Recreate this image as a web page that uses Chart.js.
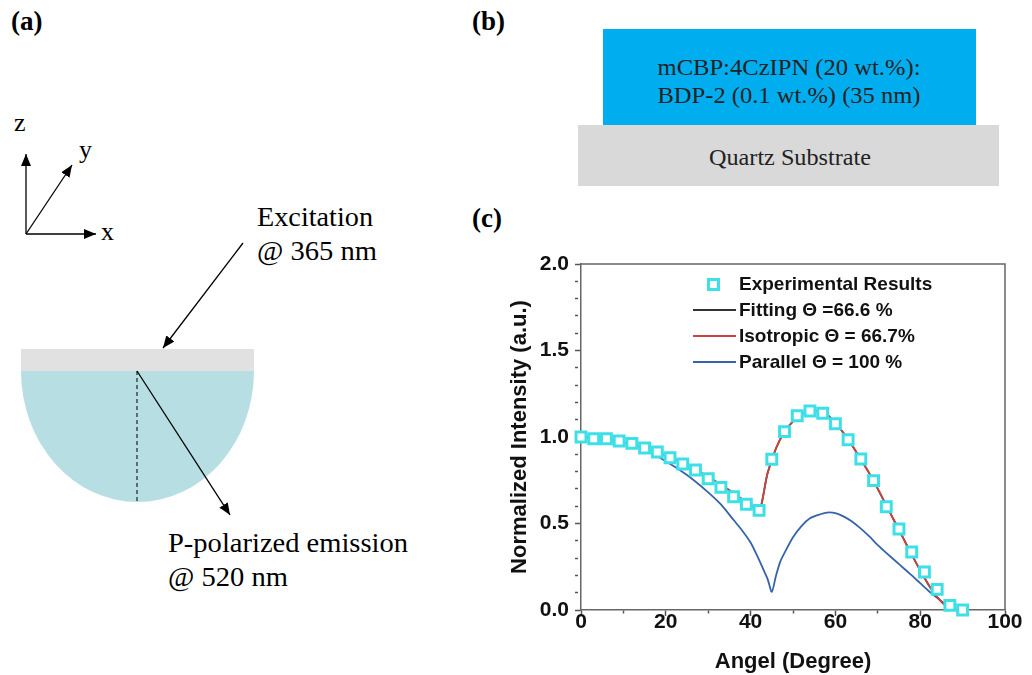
<!DOCTYPE html>
<html>
<head>
<meta charset="utf-8">
<script src="https://cdn.jsdelivr.net/npm/chart.js@4.4.0/dist/chart.umd.min.js"></script>
<style>
    html, body { margin: 0; padding: 0; background: #fff; }
    #fig { position: relative; width: 1032px; height: 675px; overflow: hidden; }
    #diagram { position: absolute; left: 0; top: 0; font-family: "Liberation Serif", "Times New Roman", serif; }
    #chartBox { position: absolute; left: 500px; top: 250px; width: 532px; height: 425px; }
    #legend { position: absolute; left: 0; top: 0; font-family: "Liberation Sans", Arial, sans-serif; font-weight: bold; font-size: 19px; color: #111; }
    .leg-row { position: absolute; left: 692px; height: 24px; display: flex; align-items: center; white-space: nowrap; }
    .leg-sym { width: 47px; height: 24px; position: relative; }
    .leg-line { position: absolute; left: 1px; width: 43px; top: 11px; height: 2px; }
    .leg-box { position: absolute; left: 15px; top: 6px; width: 7px; height: 7px; border: 3px solid; background: #fff; }
</style>
</head>
<body>
<div id="fig">
    <svg id="diagram" width="1032" height="675" viewBox="0 0 1032 675">
        <defs>
            <marker id="ah" viewBox="0 0 12 10" refX="12" refY="5" markerWidth="12" markerHeight="10" markerUnits="userSpaceOnUse" orient="auto">
                <path d="M0,0 L12,5 L0,10 z" fill="#000"/>
            </marker>
        </defs>

        <!-- panel labels -->
        <text x="11" y="30" font-size="27" font-weight="bold">(a)</text>
        <text x="472" y="30" font-size="27" font-weight="bold">(b)</text>
        <text x="472" y="227" font-size="27" font-weight="bold">(c)</text>

        <!-- (a) coordinate axes -->
        <line x1="26" y1="234" x2="26" y2="154" stroke="#000" stroke-width="1.3" marker-end="url(#ah)"/>
        <line x1="26" y1="234" x2="72" y2="165" stroke="#000" stroke-width="1.3" marker-end="url(#ah)"/>
        <line x1="26" y1="234" x2="96" y2="234" stroke="#000" stroke-width="1.3" marker-end="url(#ah)"/>
        <text x="14" y="131" font-size="26">z</text>
        <text x="79" y="158" font-size="26">y</text>
        <text x="101" y="240" font-size="26">x</text>

        <!-- (a) sample on half-cylinder prism -->
        <rect x="21" y="349" width="233" height="22" fill="#e1e1e1"/>
        <path d="M21,371 A116.5,131 0 0 0 254,371 Z" fill="#b7dfe3"/>
        <line x1="137" y1="371" x2="137" y2="502" stroke="#222" stroke-width="1.2" stroke-dasharray="4,3"/>
        <line x1="137" y1="371" x2="230" y2="515" stroke="#000" stroke-width="1.3" marker-end="url(#ah)"/>
        <line x1="243" y1="243" x2="163" y2="348" stroke="#000" stroke-width="1.3" marker-end="url(#ah)"/>

        <text x="257" y="226" font-size="28" textLength="116" lengthAdjust="spacingAndGlyphs">Excitation</text>
        <text x="257" y="260" font-size="28" textLength="120" lengthAdjust="spacingAndGlyphs">@ 365 nm</text>
        <text x="168" y="552" font-size="28" textLength="240" lengthAdjust="spacingAndGlyphs">P-polarized emission</text>
        <text x="168" y="586" font-size="28" textLength="120" lengthAdjust="spacingAndGlyphs">@ 520 nm</text>

        <!-- (b) device stack -->
        <rect x="603" y="29" width="373" height="96" fill="#00aeef"/>
        <rect x="578" y="125" width="421" height="61" fill="#d9d9d9"/>
        <text x="789" y="75" font-size="24" text-anchor="middle" fill="#222" textLength="263" lengthAdjust="spacingAndGlyphs">mCBP:4CzIPN (20 wt.%):</text>
        <text x="789" y="103" font-size="24" text-anchor="middle" fill="#222" textLength="263" lengthAdjust="spacingAndGlyphs">BDP-2 (0.1 wt.%) (35 nm)</text>
        <text x="790" y="165" font-size="24" text-anchor="middle" fill="#222" textLength="162" lengthAdjust="spacingAndGlyphs">Quartz Substrate</text>
    </svg>

    <div id="chartBox"><canvas id="angleChart" width="532" height="425"></canvas></div>
    <div id="legend"></div>
</div>

<script>
// Experimental angle-dependent PL points
const angleExp = [0, 3, 6, 9, 12, 15, 18, 21, 24, 27, 30, 33, 36, 39, 42, 45, 48, 51, 54, 57, 60, 63, 66, 69, 72, 75, 78, 81, 84, 87, 90];
const intensityExp = [1.00, 0.99, 0.99, 0.977, 0.963, 0.936, 0.913, 0.88, 0.844, 0.809, 0.759, 0.709, 0.655, 0.611, 0.576,
    0.871, 1.031, 1.123, 1.15, 1.137, 1.077, 0.984, 0.873, 0.748, 0.597, 0.468, 0.335, 0.22, 0.119, 0.027, 0.0];

// Simulated curves
const angleFit = [0, 3, 6, 9, 12, 15, 18, 21, 24, 27, 30, 33, 36, 39, 42, 44, 46, 48, 50, 52, 54, 56, 58, 60, 62, 64, 66, 68, 70, 72, 74, 76, 78, 80, 82, 84, 86, 88];
const intensityFit = [1.0, 0.995, 0.985, 0.972, 0.956, 0.936, 0.912, 0.883, 0.85, 0.812, 0.77, 0.724, 0.675, 0.625, 0.58,
    0.79, 0.935, 1.03, 1.09, 1.13, 1.15, 1.15, 1.13, 1.08, 1.02, 0.95, 0.87, 0.79, 0.70, 0.605, 0.51, 0.415, 0.32, 0.23, 0.145, 0.075, 0.025, 0.005];
const intensityIso = [1.0, 0.995, 0.985, 0.972, 0.956, 0.936, 0.912, 0.883, 0.85, 0.812, 0.77, 0.724, 0.675, 0.625, 0.58,
    0.79, 0.935, 1.03, 1.09, 1.13, 1.15, 1.15, 1.13, 1.08, 1.02, 0.95, 0.87, 0.79, 0.70, 0.605, 0.51, 0.415, 0.32, 0.23, 0.145, 0.075, 0.025, 0.005];
const angleParallel = [0, 5, 10, 15, 20, 25, 30, 33, 36, 38, 40, 42, 43, 44, 45, 46, 47, 48, 50, 52, 54, 56, 58, 60, 62, 64, 66, 68, 70, 72, 75, 78, 80, 82, 84, 86, 88];
const intensityParallel = [1.0, 0.99, 0.97, 0.925, 0.86, 0.78, 0.68, 0.61, 0.52, 0.46, 0.39, 0.29, 0.235, 0.18, 0.105,
    0.2, 0.28, 0.33, 0.42, 0.485, 0.53, 0.55, 0.563, 0.56, 0.54, 0.51, 0.47, 0.425, 0.375, 0.33, 0.265, 0.2, 0.155, 0.11, 0.07, 0.035, 0.01];

// Axis tick labels
const xTickLabels = [0, 20, 40, 60, 80, 100];
const yTickLabels = [0.0, 0.5, 1.0, 1.5, 2.0];

const cyan = '#3ee0e8';
const red = '#c94440';
const dark = '#333333';
const blue = '#3564aa';
const axisFont = { family: '"Liberation Sans", Arial, sans-serif', weight: 'bold' };

function toPoints(xs, ys) {
    return xs.map((x, i) => ({ x: x, y: ys[i] }));
}
function isMajor(list, v) {
    return list.some(t => Math.abs(t - v) < 1e-6);
}

// top + right frame lines
const frame = {
    id: 'frame',
    beforeDatasetsDraw(chart) {
        const { ctx, chartArea: a } = chart;
        ctx.save();
        ctx.strokeStyle = '#666';
        ctx.lineWidth = 1.5;
        ctx.beginPath();
        ctx.moveTo(a.left, a.top);
        ctx.lineTo(a.right, a.top);
        ctx.lineTo(a.right, a.bottom);
        ctx.stroke();
        ctx.restore();
    }
};

const ctx = document.getElementById('angleChart').getContext('2d');
const chart = new Chart(ctx, {
    type: 'line',
    data: {
        datasets: [{
            label: 'Experimental Results',
            data: toPoints(angleExp, intensityExp),
            showLine: false,
            pointStyle: 'rect',
            pointRadius: 7,
            pointBorderWidth: 3,
            pointBorderColor: cyan,
            pointBackgroundColor: '#fff',
            borderColor: cyan,
            clip: false
        }, {
            label: 'Isotropic Θ = 66.7%',
            data: toPoints(angleFit, intensityIso),
            borderColor: red,
            borderWidth: 1.8,
            pointRadius: 0,
            cubicInterpolationMode: 'monotone',
            clip: false
        }, {
            label: 'Fitting Θ =66.6 %',
            data: toPoints(angleFit, intensityFit),
            borderColor: dark,
            borderWidth: 1.8,
            pointRadius: 0,
            cubicInterpolationMode: 'monotone',
            clip: false
        }, {
            label: 'Parallel Θ = 100 %',
            data: toPoints(angleParallel, intensityParallel),
            borderColor: blue,
            borderWidth: 1.8,
            pointRadius: 0,
            tension: 0.25,
            clip: false
        }]
    },
    options: {
        responsive: false,
        animation: false,
        devicePixelRatio: 1,
        layout: { padding: { left: 0, top: 14, right: 27, bottom: 0 } },
        plugins: {
            legend: { display: false },
            tooltip: { enabled: false }
        },
        scales: {
            x: {
                type: 'linear',
                min: 0,
                max: 100,
                afterFit: s => { s.height = 65; s.paddingLeft = 0; s.paddingRight = 0; },
                ticks: {
                    stepSize: 10,
                    autoSkip: false,
                    maxRotation: 0,
                    padding: -6,
                    color: '#111',
                    font: { ...axisFont, size: 21 },
                    callback: v => isMajor(xTickLabels, v) ? String(v) : ''
                },
                grid: {
                    drawOnChartArea: false,
                    drawTicks: true,
                    tickLength: 6,
                    tickWidth: 1.5,
                    tickColor: '#555',
                    tickBorderDash: c => isMajor(xTickLabels, c.tick.value) ? [] : [3, 20]
                },
                border: { color: '#666', width: 1.5 },
                title: {
                    display: true,
                    text: 'Angel (Degree)',
                    color: '#111',
                    font: { ...axisFont, size: 22 },
                    padding: { top: 0, bottom: 0 }
                }
            },
            y: {
                min: 0,
                max: 2,
                afterFit: s => { s.width = 81; s.paddingTop = 0; s.paddingBottom = 0; },
                ticks: {
                    stepSize: 0.1,
                    autoSkip: false,
                    padding: 6,
                    color: '#111',
                    font: { ...axisFont, size: 21 },
                    callback: v => isMajor(yTickLabels, v) ? v.toFixed(1) : ''
                },
                grid: {
                    drawOnChartArea: false,
                    drawTicks: true,
                    tickLength: 6,
                    tickWidth: 1.5,
                    tickColor: '#555',
                    tickBorderDash: c => isMajor(yTickLabels, c.tick.value) ? [] : [3, 20]
                },
                border: { color: '#666', width: 1.5 },
                title: {
                    display: true,
                    text: 'Normalized Intensity (a.u.)',
                    color: '#111',
                    font: { ...axisFont, size: 22 },
                    padding: { top: 7, bottom: 0 }
                }
            }
        }
    },
    plugins: [frame]
});

// Legend inside the plot, in the original order
const legendOrder = [0, 2, 1, 3];
const legend = document.getElementById('legend');
legendOrder.forEach((idx, row) => {
    const ds = chart.data.datasets[idx];
    const item = document.createElement('div');
    item.className = 'leg-row';
    item.style.top = (272 + row * 26) + 'px';
    const sym = ds.showLine === false
        ? `<span class="leg-box" style="border-color:${ds.pointBorderColor}"></span>`
        : `<span class="leg-line" style="background:${ds.borderColor}"></span>`;
    item.innerHTML = `<span class="leg-sym">${sym}</span><span>${ds.label}</span>`;
    legend.appendChild(item);
});
</script>
</body>
</html>
